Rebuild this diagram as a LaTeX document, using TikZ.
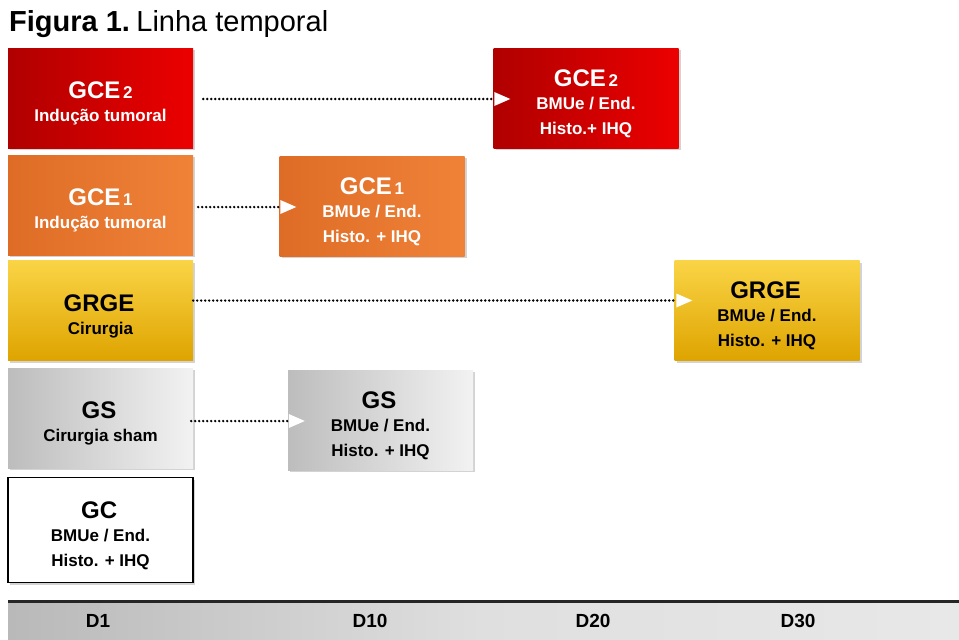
\documentclass[tikz,border=0pt]{standalone}
\usepackage{fontspec}
\setmainfont{Liberation Sans}
\usetikzlibrary{arrows.meta,shadows}

\definecolor{redL}{RGB}{176,0,0}
\definecolor{redR}{RGB}{236,0,0}
\definecolor{orgL}{RGB}{222,108,38}
\definecolor{orgR}{RGB}{240,130,56}
\definecolor{goldT}{RGB}{250,212,70}
\definecolor{goldB}{RGB}{222,164,0}

\newcommand{\gname}[2]{\rule{0pt}{28pt}{\fontsize{24}{25}\selectfont #1}{\fontsize{17}{25}\selectfont\,#2}}

\begin{document}
\begin{tikzpicture}[
    x=1pt, y=-1pt,
    grp/.style={rectangle, minimum width=185pt, minimum height=100pt, align=center,
        font=\fontsize{17}{25}\selectfont\bfseries, inner sep=0pt,
        drop shadow={shadow xshift=2pt, shadow yshift=-2pt, opacity=0.35}},
    redbox/.style={grp, left color=redL, right color=redR, text=white},
    orangebox/.style={grp, left color=orgL, right color=orgR, text=white},
    goldbox/.style={grp, top color=goldT, bottom color=goldB, text=black},
    graybox/.style={grp, left color=gray!52, middle color=gray!25, right color=gray!10, text=black},
    whitebox/.style={grp, fill=white, draw=black, line width=1.2pt, text=black},
    link/.style={line width=2.6pt, line cap=round, dash pattern=on 0pt off 4pt,
        -{Triangle[length=16pt, width=14pt, fill=white, color=white, line width=0pt]}},
    day/.style={font=\fontsize{19}{22}\selectfont\bfseries, text=black}
]
\useasboundingbox (0,0) rectangle (959,640);

\node[anchor=base west, inner sep=0pt, font=\fontsize{29}{30}\selectfont] (title) at (9,31)
    {\textbf{Figura 1.}\hspace{0.22em}Linha temporal};

\node[redbox] (gce2a) at (100.5,98) {\gname{GCE}{2}\\[-2pt]Indução tumoral};
\node[orangebox] (gce1a) at (100.5,205) {\gname{GCE}{1}\\[-2pt]Indução tumoral};
\node[goldbox] (grgea) at (100.5,310.5) {\gname{GRGE}{}\\[-2pt]Cirurgia};
\node[graybox] (gsa) at (100.5,418) {\gname{GS}{}\\[-2pt]Cirurgia sham};
\node[whitebox, minimum height=105pt] (gc) at (100.5,530) {\gname{GC}{}\\[-2pt]BMUe / End.\\Histo. + IHQ};

\node[redbox] (gce2b) at (586,98) {\gname{GCE}{2}\\[-2pt]BMUe / End.\\Histo.+ IHQ};
\node[orangebox] (gce1b) at (372,206) {\gname{GCE}{1}\\[-2pt]BMUe / End.\\Histo. + IHQ};
\node[goldbox] (grgeb) at (767,310.5) {\gname{GRGE}{}\\[-2pt]BMUe / End.\\Histo. + IHQ};
\node[graybox] (gsb) at (380.5,420) {\gname{GS}{}\\[-2pt]BMUe / End.\\Histo. + IHQ};

\draw[link] ([xshift=10pt, yshift=-1pt]gce2a.east) -- ([xshift=17pt, yshift=-1pt]gce2b.west);
\draw[link] ([xshift=5pt, yshift=-2pt]gce1a.east) -- ([xshift=17pt, yshift=-1pt]gce1b.west);
\draw[link] ([xshift=0pt, yshift=10pt]grgea.east) -- ([xshift=18pt, yshift=10pt]grgeb.west);
\draw[link] ([xshift=-2pt, yshift=-3pt]gsa.east) -- ([xshift=17pt, yshift=-1pt]gsb.west);

\shade[left color=gray!55, right color=gray!18, middle color=gray!25] (8,602) rectangle (959,640);
\draw[line width=2.2pt, black!85] (8,601.5) -- (959,601.5);

\node[day] (d1) at (98,621) {D1};
\node[day] (d10) at (370,621) {D10};
\node[day] (d20) at (593,621) {D20};
\node[day] (d30) at (798,621) {D30};

\end{tikzpicture}
\end{document}
